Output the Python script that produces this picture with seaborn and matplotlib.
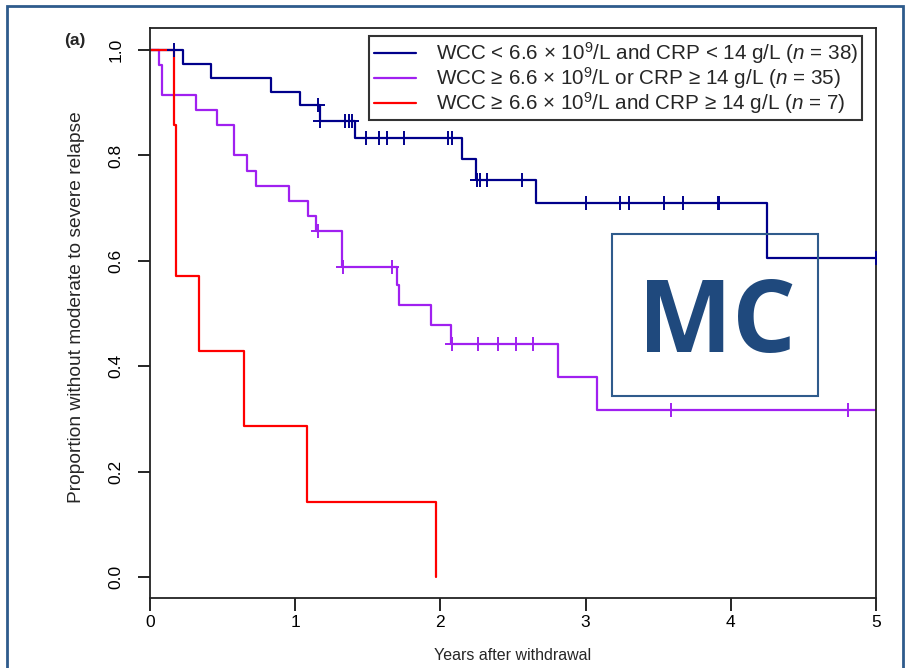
import numpy as np
import pandas as pd
import matplotlib
matplotlib.use("Agg")
import matplotlib.pyplot as plt
import seaborn as sns
from matplotlib.patches import Rectangle

# Kaplan-Meier step points (years, proportion)
low_times = [0, 0.23, 0.42, 0.83, 1.035, 1.17, 1.41, 2.15, 2.245, 2.66, 4.25, 5.0]
low_surv = [1.0, 0.974, 0.947, 0.921, 0.895, 0.866, 0.834, 0.794, 0.753, 0.709, 0.605, 0.605]
low_censor = [0.165, 1.16, 1.17, 1.34, 1.37, 1.39, 1.49, 1.58, 1.63, 1.75, 2.05, 2.08,
              2.25, 2.27, 2.32, 2.56, 3.0, 3.24, 3.30, 3.54, 3.67, 3.91, 3.92, 5.0]

mid_times = [0, 0.064, 0.08, 0.32, 0.46, 0.58, 0.67, 0.73, 0.96, 1.09, 1.14, 1.32,
             1.70, 1.715, 1.935, 2.075, 2.81, 3.08, 5.0]
mid_surv = [1.0, 0.971, 0.914, 0.886, 0.857, 0.800, 0.771, 0.743, 0.714, 0.686, 0.657, 0.589,
            0.555, 0.517, 0.478, 0.443, 0.380, 0.317, 0.317]
mid_censor = [1.16, 1.33, 1.67, 2.08, 2.26, 2.40, 2.52, 2.64, 3.59, 4.81]

high_times = [0, 0.165, 0.18, 0.34, 0.65, 1.08, 1.97]
high_surv = [1.0, 0.857, 0.571, 0.429, 0.286, 0.143, 0.0]
high_censor = []

group_labels = [
    r"WCC < 6.6 × 10$^{9}$/L and CRP < 14 g/L ($n$ = 38)",
    r"WCC ≥ 6.6 × 10$^{9}$/L or CRP ≥ 14 g/L ($n$ = 35)",
    r"WCC ≥ 6.6 × 10$^{9}$/L and CRP ≥ 14 g/L ($n$ = 7)",
]
group_colors = ["#00008B", "#A020F0", "#FF0000"]

x_ticks = [0, 1, 2, 3, 4, 5]
y_ticks = [0.0, 0.2, 0.4, 0.6, 0.8, 1.0]
y_tick_labels = ["0.0", "0.2", "0.4", "0.6", "0.8", "1.0"]

sns.set_style("ticks")
main_font = "Liberation Sans"
plt.rcParams["font.family"] = [main_font, "DejaVu Sans"]
plt.rcParams["mathtext.fontset"] = "custom"
plt.rcParams["mathtext.rm"] = main_font
plt.rcParams["mathtext.it"] = main_font + ":italic"

fig = plt.figure(figsize=(9.09, 6.68), dpi=100)
ax = fig.add_axes([150 / 909, 70 / 668, 726 / 909, 570 / 668])

groups = [(low_times, low_surv, low_censor),
          (mid_times, mid_surv, mid_censor),
          (high_times, high_surv, high_censor)]

for (t, s, c), lab, col in zip(groups, group_labels, group_colors):
    df = pd.DataFrame({"time": t, "surv": s})
    sns.lineplot(data=df, x="time", y="surv", color=col, label=lab, lw=1.6,
                 drawstyle="steps-post", estimator=None, sort=False, ax=ax)
    if c:
        idx = np.searchsorted(t, c, side="right") - 1
        cdf = pd.DataFrame({"time": c, "surv": np.array(s)[idx]})
        sns.scatterplot(data=cdf, x="time", y="surv", color=col, marker="+", s=90,
                        linewidth=1.4, legend=False, zorder=3, ax=ax)

ax.set_xlim(0, 5)
ax.set_ylim(-0.04, 1.042)
ax.set_xticks(x_ticks)
ax.set_yticks(y_ticks)
ax.set_yticklabels(y_tick_labels, rotation=90, va="center")
ax.tick_params(axis="both", length=9, width=1.2, labelsize=12.5, colors="black")
ax.tick_params(axis="y", pad=10)
ax.tick_params(axis="x", pad=3)
for sp in ax.spines.values():
    sp.set_color("#222222")
    sp.set_linewidth(1.3)

ax.set_xlabel("Years after withdrawal", fontsize=11.5)
ax.set_ylabel("Proportion without moderate to severe relapse", fontsize=13.8)
ax.xaxis.set_label_coords(0.5, -0.088)
ax.yaxis.set_label_coords(-0.09, 0.51)

leg = ax.legend(loc="upper right", bbox_to_anchor=((862 - 150) / 726, 1 - 8 / 570),
                fontsize=14.9, frameon=True, fancybox=False, edgecolor="black",
                handlelength=2.05, handletextpad=0.95, labelspacing=-0.04, borderpad=0.2,
                borderaxespad=0)
leg.get_frame().set_linewidth(1.5)

fig.text(75 / 909, 1 - 40 / 668, "(a)", ha="center", va="center", fontsize=12.5,
         fontweight="bold")

# watermark box
fig.patches.append(Rectangle((612 / 909, 1 - 396 / 668), 206 / 909, 162 / 668,
                             transform=fig.transFigure, fill=False,
                             edgecolor="#2F5B8C", lw=1.5))
fig.text(717 / 909, 1 - 352 / 668, "MC", ha="center", va="baseline", fontsize=72,
         fontweight="bold", family="Open Sans", color="#1F497D")

# outer frame
fig.patches.append(Rectangle((7 / 909, -0.02), 896 / 909, 1.02 - 6 / 668,
                             transform=fig.transFigure, fill=False,
                             edgecolor="#2E5B8C", lw=2))

fig.savefig("out.png", dpi=100)
